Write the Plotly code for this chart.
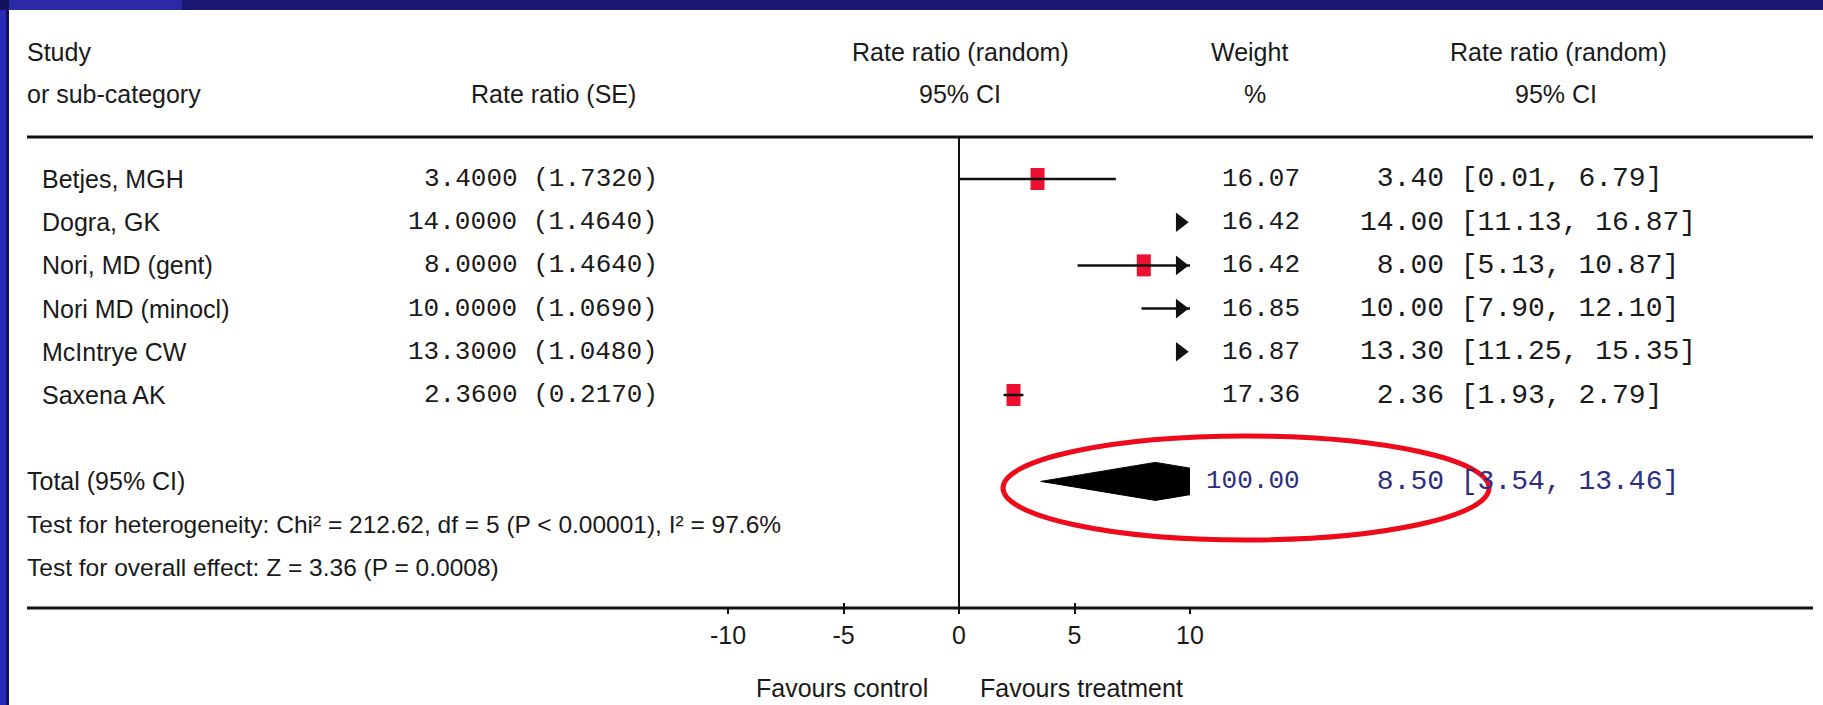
import math
import plotly.graph_objects as go

W, H = 1823, 705

# ---- forest plot data -------------------------------------------------------
studies = ["Betjes, MGH", "Dogra, GK", "Nori, MD (gent)", "Nori MD (minocl)",
           "McIntrye CW", "Saxena AK"]
rate = [3.40, 14.00, 8.00, 10.00, 13.30, 2.36]
se = [1.7320, 1.4640, 1.4640, 1.0690, 1.0480, 0.2170]
ci_low = [0.01, 11.13, 5.13, 7.90, 11.25, 1.93]
ci_high = [6.79, 16.87, 10.87, 12.10, 15.35, 2.79]
weight = [16.07, 16.42, 16.42, 16.85, 16.87, 17.36]

total_rate = 8.50
total_low = 3.54
total_high = 13.46
total_weight = 100.00

heterogeneity = "Test for heterogeneity: Chi² = 212.62, df = 5 (P &lt; 0.00001), I² = 97.6%"
overall_effect = "Test for overall effect: Z = 3.36 (P = 0.0008)"

x_ticks = [-10, -5, 0, 5, 10]
x_tick_labels = ["-10", "-5", "0", "5", "10"]
x_limits = [-10, 10]

# ---- styling ----------------------------------------------------------------
SANS = "Liberation Sans, Arial, sans-serif"
MONO = "Liberation Mono, Courier New, monospace"
INK = "#1a1a1a"
NAVY_TXT = "#2e2e80"
RED = "#ee1030"
SANS_SIZE = 25
MONO_SIZE = 26
CI_SIZE = 28

# pixel layout of the table
TOP_RULE, AXIS_Y = 137, 608
PLOT_X0, PLOT_X1 = 728, 1190
ROW0, ROW_STEP = 179, 43.2
TOTAL_ROW, HET_ROW, OVERALL_ROW = 7, 8, 9
CI_COL_X = 1358


def px(x):
    return x / W


def py(y):
    return 1 - y / H


def row_of(ypix):
    return (ypix - ROW0) / ROW_STEP


annotations = []


def text(s, x, y, anchor="left", family=SANS, size=SANS_SIZE, color=INK, yref="y"):
    annotations.append(dict(
        text=s, x=px(x), xref="paper", y=y if yref == "y" else py(y), yref=yref,
        xanchor=anchor, yanchor="middle", showarrow=False,
        font=dict(family=family, size=size, color=color),
    ))


fig = go.Figure()

units_per_px = (x_limits[1] - x_limits[0]) / (PLOT_X1 - PLOT_X0)

# confidence interval lines (clipped to the axis range by the plot area)
for i in range(len(studies)):
    fig.add_trace(go.Scatter(
        x=[ci_low[i], ci_high[i]], y=[i, i], mode="lines",
        line=dict(color="#111111", width=2.5), hoverinfo="skip", showlegend=False,
    ))

# arrowheads where the interval runs past the right limit
tri_size = 17
tip_offset = (tri_size / 2) * 2 / math.sqrt(3) * units_per_px
arrow_rows = [i for i in range(len(studies)) if ci_high[i] > x_limits[1]]
fig.add_trace(go.Scatter(
    x=[x_limits[1] - tip_offset] * len(arrow_rows), y=arrow_rows, mode="markers",
    marker=dict(symbol="triangle-right", size=tri_size, color="#111111"),
    cliponaxis=False, hoverinfo="skip", showlegend=False,
))

# pooled estimate diamond
dh = 0.44
fig.add_trace(go.Scatter(
    x=[total_low, total_rate, total_high, total_rate, total_low],
    y=[TOTAL_ROW, TOTAL_ROW - dh, TOTAL_ROW, TOTAL_ROW + dh, TOTAL_ROW],
    mode="lines", fill="toself", fillcolor="#000000",
    line=dict(color="#000000", width=1), hoverinfo="skip", showlegend=False,
))

shapes = []

# study estimate boxes
for i in range(len(studies)):
    if x_limits[0] < rate[i] < x_limits[1]:
        shapes.append(dict(
            type="rect", xref="x", yref="y", layer="below",
            xsizemode="pixel", xanchor=rate[i], x0=-7, x1=7,
            ysizemode="pixel", yanchor=i, y0=-11, y1=11,
            fillcolor=RED, line=dict(width=0),
        ))

# frame: slide border bands
shapes += [
    dict(type="rect", xref="paper", yref="paper", x0=0, x1=1, y0=py(10), y1=1,
         fillcolor="#1b1872", line=dict(width=0), layer="above"),
    dict(type="rect", xref="paper", yref="paper", x0=0, x1=px(182), y0=py(10), y1=1,
         fillcolor="#2b2aa4", line=dict(width=0), layer="above"),
    dict(type="rect", xref="paper", yref="paper", x0=0, x1=px(9), y0=0, y1=1,
         fillcolor="#12125a", line=dict(width=0), layer="above"),
    dict(type="rect", xref="paper", yref="paper", x0=0, x1=px(6), y0=0, y1=py(10),
         fillcolor="#2a2ab8", line=dict(width=0), layer="above"),
]

# horizontal rules
for yy in (TOP_RULE, AXIS_Y):
    shapes.append(dict(type="line", xref="paper", yref="paper",
                       x0=px(27), x1=px(1813), y0=py(yy), y1=py(yy),
                       line=dict(color="#111111", width=3)))

# highlight around the pooled result
shapes.append(dict(type="circle", xref="paper", yref="paper",
                   x0=px(1003), x1=px(1489), y0=py(540), y1=py(436),
                   line=dict(color="#ee0a1a", width=5)))

# ---- header ---------------------------------------------------------------------
text("Study", 25, 52, yref="paper")
text("or sub-category", 25, 94, yref="paper")
text("Rate ratio (SE)", 553, 94, anchor="center", yref="paper")
text("Rate ratio (random)", 960, 52, anchor="center", yref="paper")
text("95% CI", 960, 94, anchor="center", yref="paper")
text("Weight", 1249, 52, anchor="center", yref="paper")
text("%", 1255, 94, anchor="center", yref="paper")
text("Rate ratio (random)", 1558, 52, anchor="center", yref="paper")
text("95% CI", 1556, 94, anchor="center", yref="paper")

# ---- study rows -----------------------------------------------------------------
for i, name in enumerate(studies):
    text(name, 40, i)
    text(f"{rate[i]:.4f} ({se[i]:.4f})", 660, i, anchor="right", family=MONO,
         size=MONO_SIZE)
    text(f"{weight[i]:.2f}", 1302, i, anchor="right", family=MONO, size=MONO_SIZE)
    est = f"{rate[i]:.2f}".rjust(5).replace(" ", "\u00a0")
    text(f"{est}\u00a0[{ci_low[i]:.2f}, {ci_high[i]:.2f}]", CI_COL_X, i,
         family=MONO, size=CI_SIZE)

# ---- totals and tests -----------------------------------------------------------
text("Total (95% CI)", 25, TOTAL_ROW)
text(f"{total_weight:.2f}", 1302, TOTAL_ROW, anchor="right", family=MONO,
     size=MONO_SIZE, color=NAVY_TXT)
est = f"{total_rate:.2f}".rjust(5).replace(" ", "\u00a0")
text(f"{est}\u00a0[{total_low:.2f}, {total_high:.2f}]", CI_COL_X, TOTAL_ROW,
     family=MONO, size=CI_SIZE, color=NAVY_TXT)
text(heterogeneity, 25, HET_ROW, size=24.5)
text(overall_effect, 25, OVERALL_ROW, size=24.5)

# ---- axis captions ----------------------------------------------------------------
text("Favours control", 930, 688, anchor="right", yref="paper")
text("Favours treatment", 978, 688, anchor="left", yref="paper")

axis_common = dict(
    range=x_limits, domain=[px(PLOT_X0), px(PLOT_X1)],
    tickvals=x_ticks, ticktext=x_tick_labels, showgrid=False, showline=False,
    fixedrange=True, tickcolor="#111111", tickwidth=1.5, ticklen=5,
    automargin=False,
)

fig.update_layout(
    width=W, height=H,
    margin=dict(l=0, r=0, t=0, b=0, pad=0, autoexpand=False),
    paper_bgcolor="white", plot_bgcolor="white",
    showlegend=False,
    xaxis=dict(**axis_common, ticks="outside", zeroline=True,
               zerolinecolor="#111111", zerolinewidth=2,
               tickfont=dict(family=SANS, size=25, color=INK),
               ticklabelstandoff=0),
    xaxis2=dict(**axis_common, ticks="inside", overlaying="x", anchor="y",
                showticklabels=False, zeroline=False),
    yaxis=dict(range=[row_of(AXIS_Y), row_of(TOP_RULE)],
               domain=[py(AXIS_Y), py(TOP_RULE)], visible=False, fixedrange=True,
               automargin=False),
    shapes=shapes,
    annotations=annotations,
)

# an empty trace on the overlaid axis so its ticks are drawn
fig.add_trace(go.Scatter(x=[None], y=[None], xaxis="x2", yaxis="y",
                         showlegend=False, hoverinfo="skip"))

fig.write_html("out.html")
